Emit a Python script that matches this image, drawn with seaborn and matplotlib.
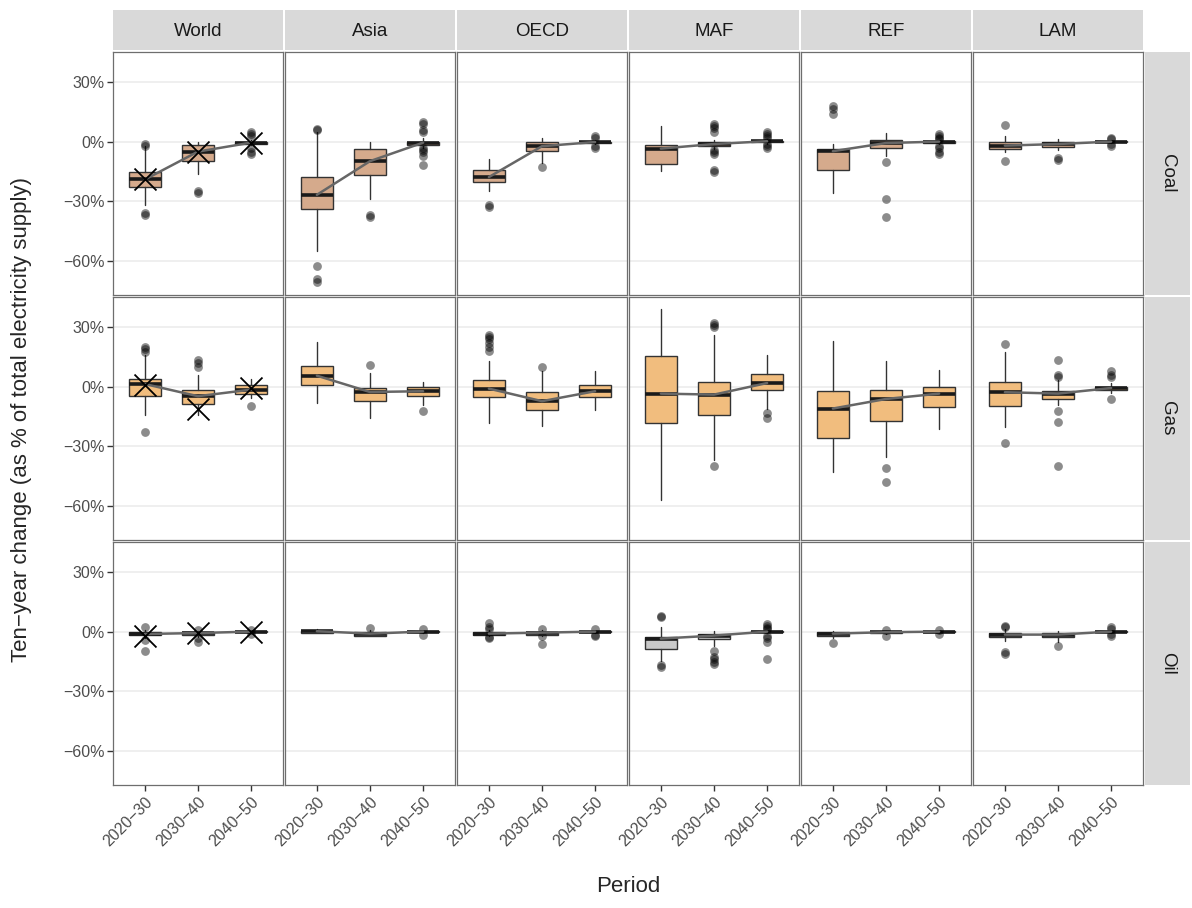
#! /usr/bin/env python3

# %% Setup
import pandas as pd
import matplotlib.pyplot as plt
import seaborn as sns

sns.set_theme(style="white")
plt.rcParams["font.family"] = ["Liberation Sans", "DejaVu Sans"]

regions = ["World", "Asia", "OECD", "MAF", "REF", "LAM"]
fuels = ["Coal", "Gas", "Oil"]
periods = ["2020\u221230", "2030\u221240", "2040\u221250"]
fills = {"Coal": "#D5AA8C", "Gas": "#F1BD7E", "Oil": "#C9C9C9"}

# box stats per period: (whisker low, q1, median, q3, whisker high), in %
coal_boxes = {
    "World": [(-32, -22.7, -19, -15.3, -2.3), (-16.5, -9.8, -5, -1.8, 0), (-1.5, -1, -0.5, 0, 1)],
    "Asia": [(-55, -34, -26.7, -18, 4.7), (-29, -17, -9.8, -3.5, 0), (-3, -1.5, -0.5, 0, 1.8)],
    "OECD": [(-24.8, -20.3, -17.8, -14.3, -8.7), (-10.7, -4.8, -2.3, -0.2, 1.8), (-1, -0.5, -0.2, 0, 0.8)],
    "MAF": [(-14.8, -11, -3.5, -1.8, 8), (-3.5, -2, -1.2, -0.2, 1), (-1, 0, 0.2, 0.5, 1.5)],
    "REF": [(-25.7, -14.3, -4.8, -3.5, -1), (-7.3, -3.2, -0.7, 0.7, 4.3), (-1, -0.5, 0, 0.5, 1)],
    "LAM": [(-5.3, -3.7, -2, -0.3, 2.7), (-4, -2.7, -1.2, 0, 1.3), (-0.8, -0.3, 0, 0.3, 0.8)],
}
coal_outliers = {
    "World": [[-1, -2, -36, -37], [-25, -26], [5, 4, 3, -3, -5, -6]],
    "Asia": [[6.5, 6, -62.5, -69, -70.5], [-37, -38], [10, 9, 6, 5, -3, -4, -5, -7, -11.5]],
    "OECD": [[-32, -33], [-12.7], [3, 2, -2, -3]],
    "MAF": [[], [9, 8, 7, 5, -4, -5, -6, -14, -15], [5, 4, 3, 2, -1, -2, -3]],
    "REF": [[17.7, 16.5, 13.8], [-10.2, -29, -38], [4, 3, 2, 1.5, -2, -3, -5, -6]],
    "LAM": [[8.5, -9.8], [-8, -9], [2, 1.2, -1.2, -2]],
}

gas_boxes = {
    "World": [(-14.3, -4.8, 1.3, 3.8, 16), (-14, -8.7, -4.8, -1.8, 6), (-5.7, -3.5, -1.5, 0.7, 4)],
    "Asia": [(-8.2, 0.7, 5.5, 10.5, 22.3), (-16, -7, -2.7, -0.7, 6.8), (-9, -4.8, -2.3, -0.3, 2.3)],
    "OECD": [(-18.2, -5.3, -1, 3.5, 13), (-19.8, -11.5, -7.3, -2.8, 8), (-11.8, -5.2, -2.3, 0.7, 8)],
    "MAF": [(-57, -18.2, -3.5, 15.2, 39), (-37, -14.3, -4, 2.3, 25.7), (-11, -1.5, 1.8, 6.3, 15.7)],
    "REF": [(-43, -25.7, -11, -2.3, 23), (-35.3, -17.3, -6.2, -1.8, 12.7), (-21.5, -10.2, -3.5, -0.2, 8.5)],
    "LAM": [(-20.2, -9.8, -2.8, 2.2, 17.3), (-9, -6, -3.5, -2.2, 3.5), (-3, -1.8, -0.7, 0, 2)],
}
gas_outliers = {
    "World": [[20, 19, 17.5, -23], [13.5, 12, 10], [-9.5]],
    "Asia": [[], [10.7], [-12.3]],
    "OECD": [[26, 25, 24, 22, 20, 18], [9.8], []],
    "MAF": [[], [32, 31, 30, -40], [-13.2, -16]],
    "REF": [[], [-41, -47.7], []],
    "LAM": [[21.5, -28.2], [13.5, 6, 5, -12, -17.8, -40], [8, 6, 5, -6]],
}

oil_boxes = {
    "World": [(-3, -1.8, -1.2, -0.3, 1), (-2.5, -1.8, -0.7, -0.3, 0.5), (-0.5, -0.3, 0, 0.3, 0.5)],
    "Asia": [(-0.5, -0.5, 0.2, 0.3, 1.5), (-2.3, -2, -1, -0.3, 0.8), (-0.5, -0.3, 0, 0.2, 0.5)],
    "OECD": [(-2, -1.5, -1, -0.3, 0.8), (-2, -1.5, -0.5, 0, 0.8), (-0.5, -0.3, 0, 0.2, 0.5)],
    "MAF": [(-14.8, -8.5, -3.5, -2.8, 2.3), (-7, -3.7, -2, -1.2, 0.5), (-0.8, -0.3, 0, 0.3, 0.8)],
    "REF": [(-3, -2, -1, -0.3, 0.5), (-1, -0.7, -0.3, 0, 0.5), (-0.5, -0.2, 0, 0.2, 0.5)],
    "LAM": [(-4.8, -2.8, -1.5, -0.7, 1.5), (-5, -2.8, -1.5, -0.7, 0.5), (-0.5, -0.3, 0, 0.2, 0.5)],
}
oil_outliers = {
    "World": [[2.3, -4, -9.5], [1, -3, -5.3], [1, -1]],
    "Asia": [[], [1.8], [1.5, -1.5]],
    "OECD": [[4.3, 2.3, 1.5, -2.5, -3], [1.2, -2.3, -6], [1.3, -1.5, -2]],
    "MAF": [[8, 7.3, -17, -18], [-9.8, -12.7, -13.5, -15, -16.5], [4, 3, 2, 1.2, -2, -3, -5, -13.7]],
    "REF": [[-5.7], [1, -2], [1, -1]],
    "LAM": [[3, 2.3, -10, -11], [-7], [2.5, 1.5, -1, -2]],
}

# world aggregate values (crosses)
world_x = {"Coal": [-19, -5, -0.5], "Gas": [1, -11, -0.7], "Oil": [-2.3, -0.7, 0]}

boxes = {"Coal": coal_boxes, "Gas": gas_boxes, "Oil": oil_boxes}
outliers = {"Coal": coal_outliers, "Gas": gas_outliers, "Oil": oil_outliers}


# %% Figure layout (pixel geometry of a ggplot facet grid)
W, H = 1192, 908
fig = plt.figure(figsize=(W / 100, H / 100), dpi=100)

left, pw, gap = 113, 170, 2
tops = [52, 297, 542]
ph = 243


def box(x0, y0, w, h):
    return [x0 / W, 1 - (y0 + h) / H, w / W, h / H]


for r, fuel in enumerate(fuels):
    for c, reg in enumerate(regions):
        ax = fig.add_axes(box(left + c * (pw + gap), tops[r], pw, ph))
        ax.set_facecolor("white")
        for y in [30, 0, -30, -60]:
            ax.axhline(y, color="#EBEBEB", lw=1.1, zorder=0)

        stats = []
        for (lo, q1, med, q3, hi) in boxes[fuel][reg]:
            stats.append(dict(whislo=lo, q1=q1, med=med, q3=q3, whishi=hi, fliers=[]))
        ax.bxp(
            stats, positions=[1, 2, 3], widths=0.6, patch_artist=True,
            showcaps=False,
            boxprops=dict(facecolor=fills[fuel], edgecolor="#333333", lw=1),
            whiskerprops=dict(color="#333333", lw=1),
            medianprops=dict(color="#1A1A1A", lw=2.6),
            zorder=2,
        )

        pts = pd.DataFrame(
            [(i + 1, v) for i, vals in enumerate(outliers[fuel][reg]) for v in vals],
            columns=["pos", "value"],
        )
        if len(pts):
            sns.scatterplot(x="pos", y="value", data=pts, ax=ax, color="black",
                            alpha=0.45, s=40, linewidth=0, zorder=3)

        med = pd.DataFrame({"pos": [1, 2, 3], "value": [b[2] for b in boxes[fuel][reg]]})
        sns.lineplot(x="pos", y="value", data=med, ax=ax, color="#666666",
                     lw=1.8, zorder=4)

        if reg == "World":
            wx = pd.DataFrame({"pos": [1, 2, 3], "value": world_x[fuel]})
            sns.scatterplot(x="pos", y="value", data=wx, ax=ax, marker="x",
                            color="black", s=250, linewidth=1.3, zorder=5)

        ax.set_xlim(0.4, 3.6)
        ax.set_ylim(-77, 45)
        ax.set_xlabel("")
        ax.set_ylabel("")
        ax.set_yticks([30, 0, -30, -60])
        ax.set_xticks([1, 2, 3])
        for s in ax.spines.values():
            s.set_color("#6E6E6E")
            s.set_linewidth(0.9)
        ax.tick_params(length=0)
        if c == 0:
            ax.set_yticklabels(["30%", "0%", "\u221230%", "\u221260%"])
            ax.tick_params(axis="y", length=4, width=1, color="#333333",
                           labelsize=11.5, labelcolor="#4D4D4D", pad=2, left=True)
        else:
            ax.set_yticklabels([])
        if r == 2:
            ax.set_xticklabels(periods, rotation=45, ha="right", rotation_mode="anchor")
            ax.tick_params(axis="x", length=4, width=1, color="#333333",
                           labelsize=11.5, labelcolor="#4D4D4D", pad=3, bottom=True)
        else:
            ax.set_xticklabels([])

# %% Strips
for c, reg in enumerate(regions):
    sax = fig.add_axes(box(left + c * (pw + gap), 10, pw, 40))
    sax.set_facecolor("#D9D9D9")
    sax.set_xticks([])
    sax.set_yticks([])
    for s in sax.spines.values():
        s.set_visible(False)
    sax.text(0.5, 0.45, reg, ha="center", va="center", fontsize=13.5,
             color="#1A1A1A", transform=sax.transAxes)

for r, fuel in enumerate(fuels):
    sax = fig.add_axes(box(1145, tops[r], 45, ph))
    sax.set_facecolor("#D9D9D9")
    sax.set_xticks([])
    sax.set_yticks([])
    for s in sax.spines.values():
        s.set_visible(False)
    sax.text(0.5, 0.5, fuel, ha="center", va="center", fontsize=13.5,
             color="#1A1A1A", rotation=-90, transform=sax.transAxes)

fig.text(628 / W, 1 - 887 / H, "Period", ha="center", va="center", fontsize=16)
fig.text(22 / W, 1 - 419 / H, "Ten\u2212year change (as % of total electricity supply)",
         ha="center", va="center", rotation=90, fontsize=16)

plt.savefig("out.png", dpi=100)
